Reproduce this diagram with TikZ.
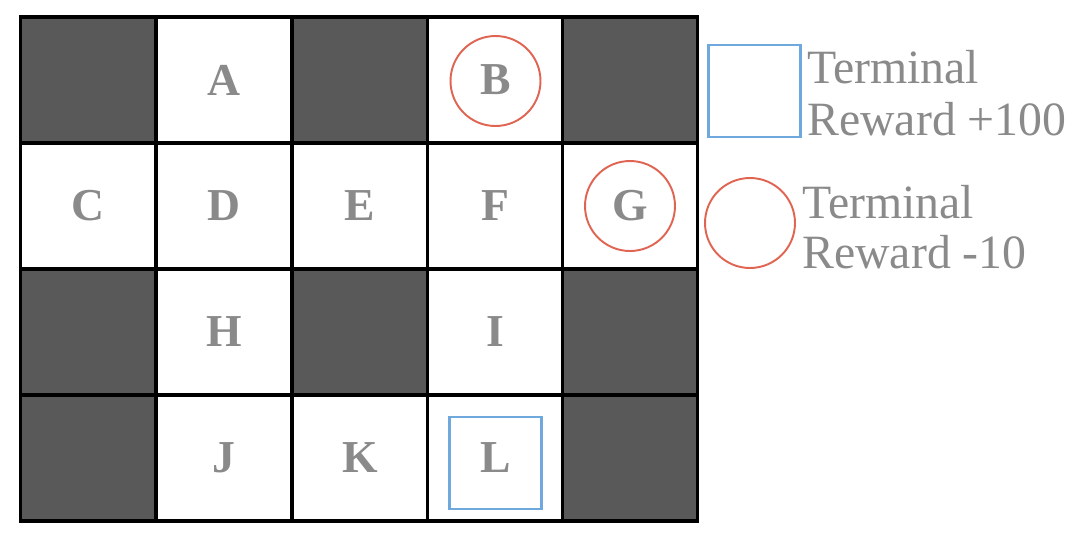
\documentclass[tikz,border=0pt]{standalone}
\usepackage{fontspec}
\setmainfont{Liberation Serif}
\usepackage{tikz}
\usetikzlibrary{positioning}
\definecolor{wallGray}{HTML}{595959}
\definecolor{labelGray}{HTML}{8A8A8A}
\definecolor{goalBlue}{HTML}{6FA8DC}
\definecolor{trapRed}{HTML}{E06452}
\tikzset{
  cell/.style={
    draw=black, fill=white, line width=1.8pt, inner sep=0pt,
    minimum width=2.71cm, minimum height=2.52cm,
    font=\fontsize{26}{28}\selectfont\bfseries, text=labelGray
  },
  wall/.style={cell, fill=wallGray},
  goalbox/.style={draw=goalBlue, line width=1.5pt, minimum size=1.84cm, inner sep=0pt},
  trapring/.style={circle, draw=trapRed, line width=1.1pt, minimum size=1.8cm, inner sep=0pt},
  legtext/.style={anchor=base west, inner sep=0pt, text=labelGray, font=\fontsize{27.2}{30}\selectfont}
}

\begin{document}
\begin{tikzpicture}[x=0.02cm, y=-0.02cm]
  \useasboundingbox (0,0) rectangle (1080,542);
  % row 1
  \node[wall] (w1) at (88,80) {};
  \node[cell] (A) at (224,80) {A};
  \node[wall] (w2) at (360,80) {};
  \node[cell] (B) at (495.5,80) {B};
  \node[wall] (w3) at (630,80) {};
  % row 2
  \node[cell] (C) at (88,206) {C};
  \node[cell] (D) at (224,206) {D};
  \node[cell] (E) at (360,206) {E};
  \node[cell] (F) at (495.5,206) {F};
  \node[cell] (G) at (630,206) {G};
  % row 3
  \node[wall] (w4) at (88,332) {};
  \node[cell] (H) at (224,332) {H};
  \node[wall] (w5) at (360,332) {};
  \node[cell] (I) at (495.5,332) {I};
  \node[wall] (w6) at (630,332) {};
  % row 4
  \node[wall] (w7) at (88,458) {};
  \node[cell] (J) at (224,458) {J};
  \node[cell] (K) at (360,458) {K};
  \node[cell] (L) at (495.5,458) {L};
  \node[wall] (w8) at (630,458) {};
  % terminal marks
  \node[trapring] (ringB) at ([yshift=-0.02cm]B) {};
  \node[trapring] (ringG) at (G) {};
  \node[goalbox] (boxL) at ([yshift=-0.1cm]L) {};
  % legend
  \node[goalbox] (legBox) at (754.5,91) {};
  \node[legtext] (legGoalA) at (807,83) {Terminal};
  \node[legtext] (legGoalB) at (807,135) {Reward +100};
  \node[trapring] (legRing) at (750,223) {};
  \node[legtext] (legTrapA) at (802,218) {Terminal};
  \node[legtext] (legTrapB) at (802,268) {Reward -10};
\end{tikzpicture}
\end{document}
